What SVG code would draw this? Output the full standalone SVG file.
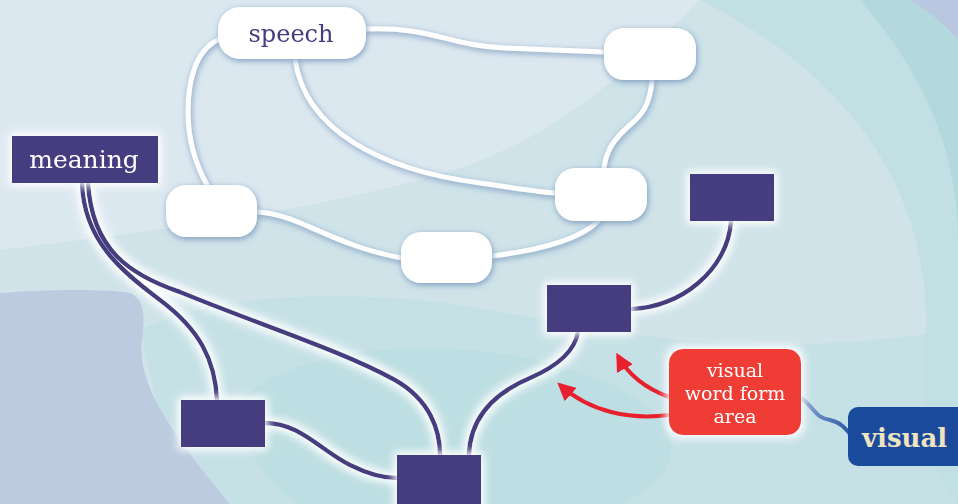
<svg xmlns="http://www.w3.org/2000/svg" width="958" height="504" viewBox="0 0 958 504">
<defs>
<filter id="sh" x="-30%" y="-40%" width="160%" height="180%">
<feGaussianBlur in="SourceAlpha" stdDeviation="3"/>
<feOffset dx="1" dy="2" result="b"/>
<feFlood flood-color="#6f8fb8" flood-opacity="0.85"/>
<feComposite in2="b" operator="in"/>
<feMerge><feMergeNode/><feMergeNode in="SourceGraphic"/></feMerge>
</filter>
<filter id="glow" x="-30%" y="-30%" width="160%" height="160%">
<feMorphology in="SourceAlpha" operator="dilate" radius="3"/>
<feGaussianBlur stdDeviation="4" result="b"/>
<feFlood flood-color="#ffffff" flood-opacity="1"/>
<feComposite in2="b" operator="in"/>
<feMerge><feMergeNode/><feMergeNode in="SourceGraphic"/></feMerge>
</filter>
<marker id="ah" viewBox="0 0 10 10" refX="8" refY="5" markerWidth="4.5" markerHeight="4.5" orient="auto" markerUnits="strokeWidth">
<path d="M0,0 L10,5 L0,10 z" fill="#e8202e"/>
</marker>
<linearGradient id="bl" x1="0" y1="0" x2="1" y2="0">
<stop offset="0" stop-color="#8aa6d0"/><stop offset="1" stop-color="#2a56a8"/>
</linearGradient>
<style>
.w{fill:#fff}
.d{fill:#453d80}
.wl{fill:none;stroke:#fff;stroke-width:5;stroke-linecap:round}
.dl{fill:none;stroke:#453d80;stroke-width:4.5}
.rl{fill:none;stroke:#e8202e;stroke-width:4}
.t{font-family:"DejaVu Serif","Liberation Serif",serif}
</style>
</defs>
<g id="background">
<rect width="958" height="504" fill="#d3e5eb"/>
<path d="M0,0 H700 C620,80 560,130 470,165 C330,210 160,230 0,250 Z" fill="#dce8f0"/>
<path d="M0,250 C160,230 330,210 470,165 C560,130 620,80 700,0 H958 V504 H0 Z" fill="#cfe3e9"/>
<path d="M700,0 C820,60 900,150 920,260 C940,360 900,440 958,504 V0 Z" fill="#c2dfe4"/>
<path d="M860,0 C930,80 958,160 958,240 V0 Z" fill="#b3d9df"/>
<path d="M910,0 H958 V40 C945,25 930,12 910,0 Z" fill="#b9c8e0"/>
<path d="M140,330 C200,300 300,290 420,300 C560,315 700,370 958,330 V504 H180 Z" fill="#c2dfe4" opacity="0.7"/>
<path d="M240,400 C300,340 480,330 600,380 C680,410 700,470 620,504 H300 C260,480 240,440 240,400 Z" fill="#b7dce0" opacity="0.6"/>
<path d="M0,293 C40,290 100,288 130,293 C145,298 145,320 142,340 C138,380 160,420 230,504 H0 Z" fill="#bccbe0"/>
</g>
<g id="connectors">
<g filter="url(#sh)">
<path class="wl" d="M218,40 C196,50 188,80 188,112 C188,142 196,165 207,185"/>
<path class="wl" d="M366,29 C430,26 450,46 505,48 L604,52"/>
<path class="wl" d="M295,59 C305,130 380,170 480,183 C520,189 540,192 555,193"/>
<path class="wl" d="M652,80 C650,105 642,115 630,125 C615,138 606,150 604,168"/>
<path class="wl" d="M257,212 C300,214 330,245 402,258"/>
<path class="wl" d="M598,221 C580,240 540,250 492,256"/>
</g>
<g filter="url(#glow)">
<path class="dl" d="M82,183 C84,240 120,270 160,300 C200,330 215,360 217,400"/>
<path class="dl" d="M88,183 C92,250 130,275 180,292 C260,325 340,350 395,380 C430,400 440,430 440,455"/>
<path class="dl" d="M265,423 C300,423 320,450 350,465 C370,475 385,478 397,478"/>
<path class="dl" d="M469,455 C470,420 490,395 530,378 C560,365 575,350 578,332"/>
<path class="dl" d="M631,309 C680,308 728,270 731,221"/>
</g>
<path d="M801,398 C815,408 815,418 830,420 C840,422 845,428 850,434" fill="none" stroke="url(#bl)" stroke-width="4"/>
<path class="rl" d="M669,397 C650,390 630,378 618,356" marker-end="url(#ah)"/>
<path class="rl" d="M669,415 C630,420 590,412 560,385" marker-end="url(#ah)"/>
</g>
<g id="speech" filter="url(#sh)">
<rect class="w" x="218" y="7" width="148" height="52" rx="22"/>
<text class="t" x="291" y="42" font-size="24" fill="#453d80" text-anchor="middle">speech</text>
</g>
<g id="node-top-right" filter="url(#sh)"><rect class="w" x="604" y="28" width="92" height="52" rx="20"/></g>
<g id="node-mid-right" filter="url(#sh)"><rect class="w" x="555" y="168" width="92" height="53" rx="20"/></g>
<g id="node-left" filter="url(#sh)"><rect class="w" x="166" y="185" width="91" height="52" rx="20"/></g>
<g id="node-bottom-mid" filter="url(#sh)"><rect class="w" x="401" y="232" width="91" height="51" rx="20"/></g>
<g id="meaning" filter="url(#glow)">
<rect class="d" x="12" y="136" width="146" height="47"/>
<text class="t" x="84" y="168" font-size="25" fill="#fff" text-anchor="middle">meaning</text>
</g>
<g id="box-top-right" filter="url(#glow)"><rect class="d" x="690" y="174" width="84" height="47"/></g>
<g id="box-mid" filter="url(#glow)"><rect class="d" x="547" y="285" width="84" height="47"/></g>
<g id="box-left" filter="url(#glow)"><rect class="d" x="181" y="400" width="84" height="47"/></g>
<g id="box-bottom" filter="url(#glow)"><rect class="d" x="397" y="455" width="84" height="55"/></g>
<g id="vwfa" filter="url(#glow)">
<rect x="669" y="349" width="132" height="86" rx="14" fill="#ef3e36"/>
<text class="t" font-size="19" fill="#fff" text-anchor="middle"><tspan x="735" y="377">visual</tspan><tspan x="735" y="400">word form</tspan><tspan x="735" y="423">area</tspan></text>
</g>
<g id="visual">
<rect x="848" y="407" width="124" height="59" rx="10" fill="#1a4a9c"/>
<text class="t" x="862" y="447" font-size="26" font-weight="bold" fill="#efe3c0">visual</text>
</g>
</svg>
